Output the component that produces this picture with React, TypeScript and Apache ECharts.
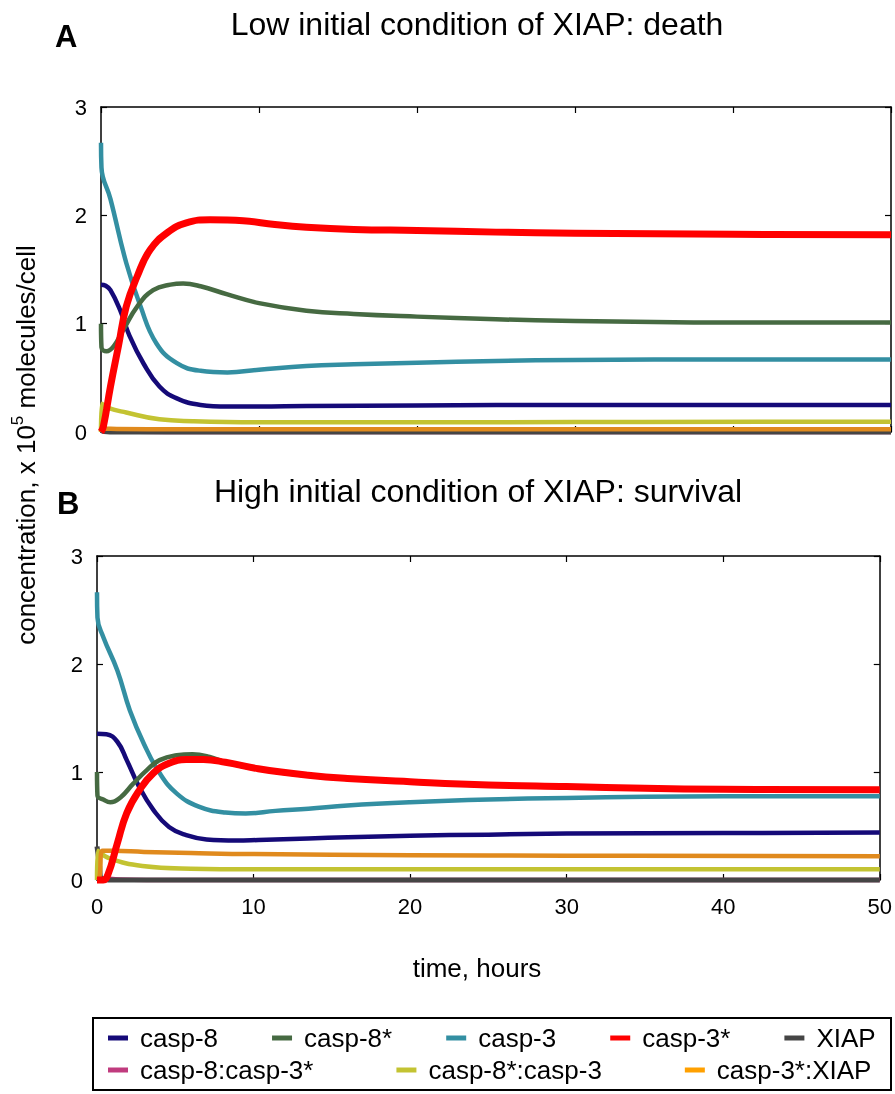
import React, { useEffect, useRef } from "react";
import * as echarts from "echarts";

// ---------- data (time in hours, concentration in 10^5 molecules/cell) ----------
const SERIES_NAMES = ["casp-8", "casp-8*", "casp-3", "casp-3*", "XIAP", "casp-8:casp-3*", "casp-8*:casp-3", "casp-3*:XIAP"];
const LINE_COLORS = ["#150a78", "#466a42", "#338fa2", "#ff0000", "#454545", "#c03b7e", "#c3c332", "#e08a1d"];
const LEGEND_COLORS = ["#150a78", "#466a42", "#338fa2", "#ff0000", "#454545", "#c03b7e", "#c3c332", "#ffa000"];
const X_TICK_VALUES = [0, 10, 20, 30, 40, 50];
const Y_TICK_VALUES = [0, 1, 2, 3];

// Panel A: low initial XIAP (death)
const A_casp8 = [[0, 1.36], [0.3, 1.35], [0.6, 1.31], [1.2, 1.13], [1.8, 0.89], [2.7, 0.63], [3.7, 0.42], [4.8, 0.31], [6.3, 0.25], [8, 0.235], [10, 0.235], [13, 0.24], [20, 0.245], [30, 0.25], [40, 0.25], [50, 0.25]];
const A_casp8s = [[0, 1.0], [0.03, 0.78], [0.35, 0.745], [0.8, 0.79], [1.4, 0.94], [2.3, 1.16], [3.3, 1.31], [4.4, 1.36], [5.2, 1.37], [6.3, 1.345], [8, 1.27], [10, 1.19], [13, 1.12], [16, 1.09], [20, 1.065], [25, 1.04], [30, 1.025], [35, 1.015], [40, 1.01], [50, 1.01]];
const A_casp3 = [[0, 2.67], [0.03, 2.44], [0.6, 2.15], [1.6, 1.56], [2.5, 1.16], [3.5, 0.82], [4.8, 0.635], [6.3, 0.565], [8, 0.55], [10, 0.575], [13, 0.61], [16, 0.625], [20, 0.64], [25, 0.655], [30, 0.665], [40, 0.67], [50, 0.67]];
const A_casp3s = [[0, 0], [0.15, 0.05], [0.6, 0.42], [1.1, 0.79], [1.6, 1.16], [2.3, 1.44], [3.1, 1.68], [4.2, 1.84], [5.4, 1.93], [6.9, 1.96], [9, 1.95], [11, 1.915], [13, 1.89], [16, 1.87], [20, 1.86], [25, 1.845], [30, 1.835], [35, 1.83], [40, 1.825], [50, 1.82]];
const A_xiap = [[0, 0.03], [0.2, 0.005], [1, 0], [10, 0], [50, 0]];
const A_c8c3s = [[0, 0], [0.3, 0.01], [1, 0.005], [5, 0], [50, 0]];
const A_c8sc3 = [[0, 0], [0.05, 0.26], [0.5, 0.22], [1.6, 0.18], [3.7, 0.117], [5.8, 0.1], [10, 0.09], [20, 0.09], [30, 0.092], [50, 0.095]];
const A_c3sxiap = [[0, 0], [0.2, 0.03], [1, 0.028], [5, 0.025], [20, 0.025], [50, 0.025]];

// Panel B: high initial XIAP (survival)
const B_casp8 = [[0, 1.355], [0.6, 1.35], [1.3, 1.28], [1.9, 1.11], [2.7, 0.86], [3.6, 0.65], [4.6, 0.49], [5.7, 0.415], [7, 0.375], [8.9, 0.365], [10.3, 0.37], [13.5, 0.385], [16, 0.395], [20, 0.41], [25, 0.42], [30, 0.43], [40, 0.435], [50, 0.44]];
const B_casp8s = [[0, 1.0], [0.03, 0.78], [0.4, 0.745], [0.85, 0.72], [1.5, 0.765], [2.3, 0.89], [3.2, 1.02], [4, 1.11], [5.1, 1.155], [6.1, 1.165], [7.2, 1.14], [8.2, 1.09], [10.3, 1.025], [13.5, 0.965], [16, 0.935], [20, 0.905], [25, 0.875], [30, 0.86], [35, 0.845], [40, 0.835], [50, 0.83]];
const B_casp3 = [[0, 2.665], [0.03, 2.43], [0.4, 2.25], [1.3, 1.94], [2.1, 1.57], [3, 1.26], [4, 0.99], [5.1, 0.8], [6.5, 0.68], [8.2, 0.625], [9.5, 0.615], [11.4, 0.64], [13.5, 0.66], [16, 0.69], [20, 0.72], [25, 0.745], [30, 0.76], [35, 0.77], [40, 0.775], [50, 0.775]];
const B_casp3s = [[0, 0], [0.4, 0], [0.7, 0.05], [1.3, 0.34], [1.9, 0.62], [2.7, 0.83], [3.6, 0.99], [4.6, 1.08], [5.7, 1.115], [6.8, 1.115], [8.2, 1.09], [10.3, 1.03], [13.5, 0.97], [16, 0.94], [20, 0.91], [25, 0.88], [30, 0.865], [35, 0.85], [40, 0.84], [50, 0.835]];
const B_xiap = [[0, 0.31], [0.15, 0.15], [0.3, 0.01], [1, 0], [50, 0]];
const B_c8c3s = [[0, 0], [0.2, 0.02], [0.5, 0.015], [1.5, 0.005], [5, 0], [50, 0]];
const B_c8sc3 = [[0, 0], [0.05, 0.27], [0.8, 0.2], [2.9, 0.13], [6, 0.105], [10, 0.1], [20, 0.1], [50, 0.1]];
const B_c3sxiap = [[0, 0], [0.15, 0.02], [0.35, 0.27], [1, 0.27], [3, 0.26], [6, 0.25], [10, 0.24], [20, 0.23], [30, 0.225], [50, 0.22]];

const PANEL_A = [A_casp8, A_casp8s, A_casp3, A_casp3s, A_xiap, A_c8c3s, A_c8sc3, A_c3sxiap];
const PANEL_B = [B_casp8, B_casp8s, B_casp3, B_casp3s, B_xiap, B_c8c3s, B_c8sc3, B_c3sxiap];

const TITLE_A = "Low initial condition of XIAP: death";
const TITLE_B = "High initial condition of XIAP: survival";
const X_NAME = "time, hours";

// drawing order (index into SERIES_NAMES), bottom first
const DRAW_ORDER = [5, 4, 6, 7, 0, 2, 1, 3];

const FONT = "'Liberation Sans', Arial, Helvetica, sans-serif";

export default function App() {
  const ref = useRef<HTMLDivElement>(null);

  useEffect(() => {
    if (!ref.current) return;
    const chart = echarts.init(ref.current, undefined, { renderer: "svg" });

    const grids = [
      { left: 101, top: 107, width: 790, height: 325 },
      { left: 97, top: 556, width: 790, height: 324 },
    ];

    const axisLine = { show: true, onZero: false, lineStyle: { color: "#000", width: 1.5 } };
    const axisTick = { show: true, inside: true, length: 6, lineStyle: { color: "#000", width: 1.2 } };
    const xMax = X_TICK_VALUES[X_TICK_VALUES.length - 1];
    const yMax = Y_TICK_VALUES[Y_TICK_VALUES.length - 1];

    const xAxes: any[] = [];
    const yAxes: any[] = [];
    [0, 1].forEach((g) => {
      xAxes.push({
        type: "value", gridIndex: g, position: "bottom", min: 0, max: xMax, interval: 10,
        axisLine, axisTick, splitLine: { show: false },
        axisLabel: { show: g === 1, fontSize: 22, color: "#000", margin: 15, fontFamily: FONT },
      });
      xAxes.push({
        type: "value", gridIndex: g, position: "top", min: 0, max: xMax, interval: 10,
        axisLine, axisTick, splitLine: { show: false }, axisLabel: { show: false },
      });
      yAxes.push({
        type: "value", gridIndex: g, position: "left", min: 0, max: yMax, interval: 1,
        axisLine, axisTick, splitLine: { show: false },
        axisLabel: { show: true, fontSize: 22, color: "#000", margin: 14, fontFamily: FONT },
      });
      yAxes.push({
        type: "value", gridIndex: g, position: "right", min: 0, max: yMax, interval: 1,
        axisLine, axisTick, splitLine: { show: false }, axisLabel: { show: false },
      });
    });

    const series: any[] = [];
    [PANEL_A, PANEL_B].forEach((panel, g) => {
      DRAW_ORDER.forEach((i, k) => {
        series.push({
          type: "line",
          name: SERIES_NAMES[i],
          data: panel[i],
          xAxisIndex: g * 2,
          yAxisIndex: g * 2,
          showSymbol: false,
          symbol: "none",
          smooth: 0.45,
          clip: false,
          z: 2 + k,
          itemStyle: { color: LEGEND_COLORS[i] },
          lineStyle: { color: LINE_COLORS[i], width: i === 3 ? 7 : i === 4 ? 5 : 4.5, join: "round" },
          emphasis: { disabled: true },
        });
      });
    });

    const legendCommon = {
      icon: "rect", itemWidth: 20, itemHeight: 5, padding: 0, orient: "horizontal",
      textStyle: { fontSize: 26, color: "#000", fontFamily: FONT, padding: [0, 0, 0, 7], lineHeight: 28 },
    };

    chart.setOption({
      animation: false,
      textStyle: { fontFamily: FONT },
      grid: grids,
      xAxis: xAxes,
      yAxis: yAxes,
      series,
      legend: [
        { ...legendCommon, left: 108, top: 1024, itemGap: 54, data: SERIES_NAMES.slice(0, 5) },
        { ...legendCommon, left: 108, top: 1056, itemGap: 83, data: SERIES_NAMES.slice(5) },
      ],
      graphic: [
        { type: "text", x: 477, y: 24, style: { text: TITLE_A, fontSize: 32, fontFamily: FONT, fill: "#000", align: "center", verticalAlign: "middle" } },
        { type: "text", x: 478, y: 491, style: { text: TITLE_B, fontSize: 32, fontFamily: FONT, fill: "#000", align: "center", verticalAlign: "middle" } },
        { type: "text", x: 55, y: 36, style: { text: "A", fontSize: 31, fontWeight: "bold", fontFamily: FONT, fill: "#000", align: "left", verticalAlign: "middle" } },
        { type: "text", x: 57, y: 503, style: { text: "B", fontSize: 31, fontWeight: "bold", fontFamily: FONT, fill: "#000", align: "left", verticalAlign: "middle" } },
        { type: "text", x: 477, y: 968, style: { text: X_NAME, fontSize: 26, fontFamily: FONT, fill: "#000", align: "center", verticalAlign: "middle" } },
        {
          type: "text", x: 24, y: 445, rotation: Math.PI / 2,
          style: {
            text: "{a|concentration, x 10}{s|5}{a| molecules/cell}",
            align: "center", verticalAlign: "middle", fill: "#000",
            rich: {
              a: { fontSize: 26, fontFamily: FONT, fill: "#000", lineHeight: 30, verticalAlign: "bottom" },
              s: { fontSize: 17, fontFamily: FONT, fill: "#000", lineHeight: 30, verticalAlign: "top" },
            },
          },
        },
        { type: "rect", shape: { x: 93, y: 1018, width: 798, height: 72 }, style: { fill: "none", stroke: "#000", lineWidth: 2 } },
      ],
    });

    return () => chart.dispose();
  }, []);

  return <div ref={ref} style={{ position: "fixed", left: 0, top: 0, width: 895, height: 1094 }} />;
}
